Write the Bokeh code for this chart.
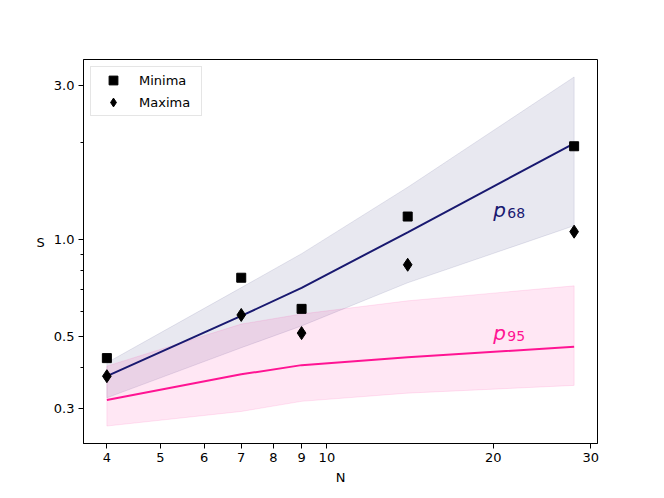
import numpy as np
from bokeh.plotting import figure
from bokeh.models import Range1d, FixedTicker, Legend
from bokeh.core.properties import value
from bokeh.embed import file_html
from bokeh.resources import INLINE

# ---- data ----
N = [4, 7, 9, 14, 28]
minima = [0.429, 0.762, 0.610, 1.18, 1.95]
maxima = [0.377, 0.584, 0.513, 0.836, 1.059]
p68_med = [0.377, 0.580, 0.709, 1.054, 1.991]
p68_lo = [0.323, 0.462, 0.540, 0.735, 1.105]
p68_hi = [0.415, 0.710, 0.905, 1.455, 3.20]
p95_med = [0.318, 0.382, 0.408, 0.432, 0.465]
p95_lo = [0.264, 0.293, 0.315, 0.334, 0.353]
p95_hi = [0.405, 0.547, 0.588, 0.646, 0.719]

x_ticks = [4, 5, 6, 7, 8, 9, 10, 20, 30]
x_tick_labels = ["4", "5", "6", "7", "8", "9", "10", "20", "30"]
y_ticks = [0.3, 0.5, 1.0, 3.0]
y_tick_labels = ["0.3", "0.5", "1.0", "3.0"]
y_minor_ticks = [0.4, 0.6, 0.7, 0.8, 0.9, 2.0]

band_labels = ["68", "95"]
band_label_x = [20.0, 20.0]
band_label_y = [1.20, 0.50]

NAVY = "#191970"
PINK = "#ff1493"
FONT = "DejaVu Sans"


def log_range(vals, pad=0.05):
    lv = np.log10(np.asarray(vals, dtype=float))
    lo, hi = lv.min(), lv.max()
    d = (hi - lo) * pad
    return 10 ** (lo - d), 10 ** (hi + d)


xr = log_range(N)
yr = log_range(minima + maxima + p68_lo + p68_hi + p95_lo + p95_hi)

p = figure(width=664, height=498, x_axis_type="log", y_axis_type="log",
           x_range=Range1d(*xr), y_range=Range1d(*yr),
           output_backend="svg", toolbar_location=None,
           min_border_left=83, min_border_right=67,
           min_border_top=59, min_border_bottom=55)
p.grid.visible = False
p.outline_line_color = "black"
p.outline_line_width = 1
p.background_fill_color = "white"
p.border_fill_color = "white"

# bands
p.patch(x=N + N[::-1], y=p68_hi + p68_lo[::-1], fill_color=NAVY, fill_alpha=0.1,
        line_color=NAVY, line_alpha=0.1, line_width=1)
p.patch(x=N + N[::-1], y=p95_hi + p95_lo[::-1], fill_color=PINK, fill_alpha=0.1,
        line_color=PINK, line_alpha=0.1, line_width=1)

# median lines
p.line(N, p68_med, line_color=NAVY, line_width=2)
p.line(N, p95_med, line_color=PINK, line_width=2)

# markers
r_min = p.scatter(N, minima, marker="square", size=9, fill_color="black", line_color="black")
r_max = p.scatter(N, maxima, marker="diamond", size=13, fill_color="black", line_color="black")

# band labels p_68, p_95
colors = [NAVY, PINK]
p.text(x=band_label_x, y=band_label_y, text=["p", "p"], text_color=colors,
       text_font=value(FONT), text_font_style="italic", text_font_size="20px",
       text_baseline="alphabetic", text_align="left", y_offset=-4)
p.text(x=band_label_x, y=band_label_y, text=band_labels, text_color=colors,
       text_font=value(FONT), text_font_size="14px", x_offset=14, y_offset=-1,
       text_baseline="alphabetic", text_align="left")

# axes
for ax in (p.xaxis[0], p.yaxis[0]):
    ax.axis_line_color = "black"
    ax.major_tick_line_color = "black"
    ax.minor_tick_line_color = "black"
    ax.major_tick_out = 5
    ax.major_tick_in = 0
    ax.minor_tick_out = 3
    ax.minor_tick_in = 0
    ax.major_label_text_font = FONT
    ax.major_label_text_font_size = "13px"
    ax.major_label_text_color = "black"
    ax.axis_label_text_font = FONT
    ax.axis_label_text_font_size = "13px"
    ax.axis_label_text_font_style = "normal"
    ax.axis_label_text_color = "black"
    ax.major_label_standoff = 4

p.xaxis.ticker = FixedTicker(ticks=x_ticks, minor_ticks=[])
p.xaxis.major_label_overrides = {t: l for t, l in zip(x_ticks, x_tick_labels)}
p.yaxis.ticker = FixedTicker(ticks=y_ticks, minor_ticks=y_minor_ticks)
p.yaxis.major_label_overrides = {t: l for t, l in zip(y_ticks, y_tick_labels)}
p.xaxis.axis_label = "N"
p.xaxis.axis_label_standoff = 5
p.yaxis.axis_label = "S\n"
p.yaxis.axis_label_orientation = "horizontal"
p.yaxis.axis_label_standoff = 6

legend = Legend(items=[("Minima", [r_min]), ("Maxima", [r_max])], location="top_left")
legend.margin = 7
legend.padding = 2
legend.spacing = -1
legend.glyph_width = 40
legend.glyph_height = 22
legend.label_height = 22
legend.label_width = 60
legend.label_standoff = 6
legend.label_text_font = FONT
legend.label_text_font_size = "13px"
legend.label_text_color = "black"
legend.border_line_color = "#cccccc"
legend.border_line_width = 1
legend.background_fill_alpha = 0.8
p.add_layout(legend)

open("out.html", "w").write(file_html(p, INLINE))
